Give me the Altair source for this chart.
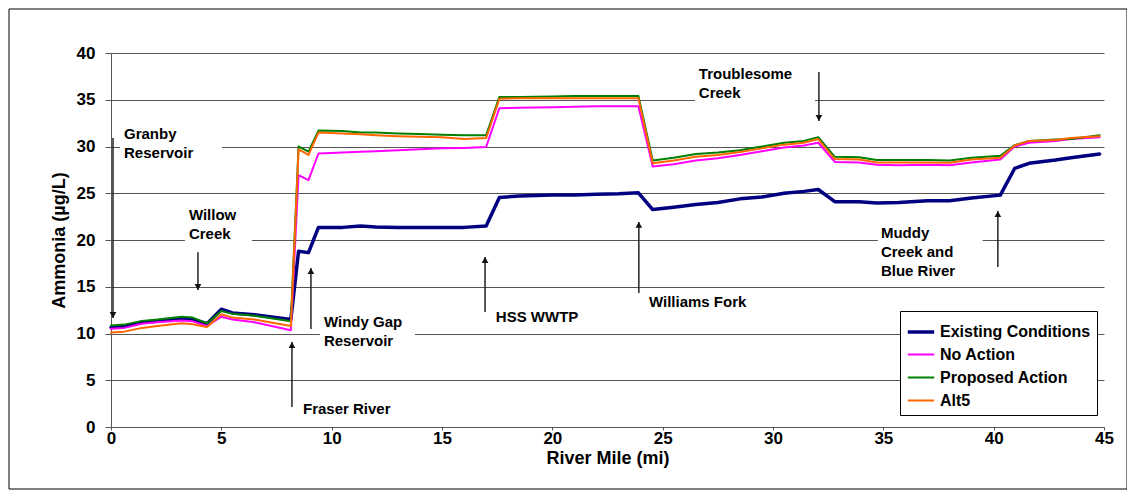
import altair as alt
import pandas as pd

# ---------------- data ----------------
miles = [0, 0.6, 1.4, 2.1, 3.2, 3.7, 4.35, 5.0, 5.5, 6.5,
         8.15, 8.5, 8.95, 9.4, 10.5, 11.3, 12.0, 13.0, 14.0, 15.0,
         16.0, 17.0, 17.6, 18.5, 20.0, 21.0, 22.0, 23.0, 23.9, 24.55,
         25.5, 26.5, 27.5, 28.5, 29.5, 30.5, 31.4, 32.05, 32.8, 33.9,
         34.7, 35.7, 37.0, 38.0, 39.0, 40.3, 40.95, 41.6, 42.8, 43.5,
         44.8]

existing = [10.65, 10.75, 11.2, 11.3, 11.6, 11.5, 11.05, 12.6, 12.2, 12.0,
            11.5, 18.8, 18.65, 21.35, 21.35, 21.5, 21.4, 21.35, 21.35, 21.35,
            21.35, 21.5, 24.55, 24.7, 24.8, 24.8, 24.9, 24.95, 25.05, 23.25,
            23.5, 23.8, 24.0, 24.4, 24.6, 25.0, 25.2, 25.4, 24.1, 24.1,
            23.95, 24.0, 24.2, 24.2, 24.5, 24.8, 27.65, 28.2, 28.55, 28.8,
            29.2]

no_action = [10.5, 10.6, 11.05, 11.2, 11.4, 11.3, 10.8, 11.8, 11.5, 11.2,
             10.35, 26.95, 26.4, 29.25, 29.35, 29.45, 29.5, 29.6, 29.7, 29.8,
             29.85, 29.95, 34.1, 34.15, 34.2, 34.25, 34.3, 34.3, 34.3, 27.85,
             28.1, 28.5, 28.75, 29.1, 29.5, 29.9, 30.1, 30.4, 28.35, 28.3,
             28.05, 28.0, 28.05, 28.0, 28.3, 28.6, 30.0, 30.4, 30.6, 30.8,
             31.0]

proposed = [10.85, 10.95, 11.35, 11.5, 11.8, 11.7, 11.1, 12.4, 12.1, 11.9,
            11.3, 30.0, 29.45, 31.7, 31.65, 31.5, 31.5, 31.4, 31.35, 31.25,
            31.2, 31.2, 35.3, 35.3, 35.35, 35.4, 35.4, 35.4, 35.4, 28.5,
            28.8, 29.2, 29.35, 29.6, 30.0, 30.4, 30.6, 31.0, 28.9, 28.85,
            28.55, 28.55, 28.55, 28.5, 28.8, 29.0, 30.15, 30.6, 30.75, 30.8,
            31.2]

alt5 = [10.1, 10.2, 10.6, 10.8, 11.1, 11.0, 10.7, 12.05, 11.7, 11.5,
        10.8, 29.7, 29.1, 31.5, 31.4, 31.3, 31.2, 31.1, 31.05, 31.0,
        30.8, 30.9, 35.1, 35.15, 35.15, 35.15, 35.15, 35.15, 35.15, 28.2,
        28.5, 28.9, 29.1, 29.4, 29.8, 30.2, 30.4, 30.8, 28.65, 28.6,
        28.3, 28.3, 28.3, 28.25, 28.6, 28.8, 30.1, 30.6, 30.7, 30.9,
        31.1]

series_names = ["Existing Conditions", "No Action", "Proposed Action", "Alt5"]
series_values = [existing, no_action, proposed, alt5]
series_colors = ["#000080", "#FF00FF", "#008000", "#FF6600"]
series_widths = [3.5, 2, 2, 2]

x_ticks = [0, 5, 10, 15, 20, 25, 30, 35, 40, 45]
y_ticks = [0, 5, 10, 15, 20, 25, 30, 35, 40]

# annotation text lines (anchored in river mile / ammonia units)
ann_text = ["Granby", "Reservoir", "Willow", "Creek", "Windy Gap", "Reservoir",
            "Fraser River", "HSS WWTP", "Williams Fork", "Troublesome", "Creek",
            "Muddy", "Creek and", "Blue River"]
ann_mile = [0.59, 0.59, 3.53, 3.53, 9.65, 9.65,
            8.70, 17.44, 24.38, 26.64, 26.64,
            34.89, 34.89, 34.89]
ann_value = [31.34, 29.30, 22.67, 20.64, 11.23, 9.20,
             1.93, 11.76, 13.37, 37.75, 35.72,
             20.75, 18.72, 16.68]

# label background boxes
box_m1 = [0.41, 3.35, 9.47, 26.46, 34.75]
box_m2 = [5.03, 6.39, 13.77, 31.9, 39.5]
box_v1 = [32.3, 23.7, 12.3, 38.8, 21.9]
box_v2 = [28.3, 19.6, 8.1, 34.65, 15.7]

# arrows: mile, start value, tip value, direction
arr_mile = [0.09, 3.94, 9.06, 8.2, 16.95, 23.92, 32.08, 40.19]
arr_from = [30.9, 18.7, 10.48, 2.14, 12.3, 14.33, 37.97, 17.11]
arr_tip = [11.66, 14.65, 17.0, 9.09, 18.18, 21.93, 32.73, 23.1]
arr_dir = ["down", "down", "up", "up", "up", "up", "down", "up"]

# ---------------- tables ----------------
rows = []
for name, vals in zip(series_names, series_values):
    for m, v in zip(miles, vals):
        rows.append({"mile": m, "value": v, "series": name})
df = pd.DataFrame(rows)

ann_df = pd.DataFrame({"text": ann_text, "mile": ann_mile, "value": ann_value})
box_df = pd.DataFrame({"m1": box_m1, "m2": box_m2, "v1": box_v1, "v2": box_v2})
arr_df = pd.DataFrame({"mile": arr_mile, "v0": arr_from, "tip": arr_tip, "dir": arr_dir})

FONT = "Liberation Sans"

xscale = alt.Scale(domain=[0, 45], nice=False, zero=False)
yscale = alt.Scale(domain=[0, 40], nice=False, zero=False)

x_enc = alt.X("mile:Q", scale=xscale,
              axis=alt.Axis(values=x_ticks, title="River Mile (mi)", grid=False,
                            tickSize=3, labelPadding=0, titlePadding=3,
                            labelFlush=False))
y_enc = alt.Y("value:Q", scale=yscale,
              axis=alt.Axis(values=y_ticks, title="Ammonia (µg/L)", grid=True,
                            tickSize=6, labelPadding=10, titlePadding=8))

legend_kw = dict(orient="none", legendX=789, legendY=258, title=None,
                 fillColor="white", strokeColor="#000000", padding=6,
                 labelFont=FONT, labelFontSize=16, labelFontWeight="bold",
                 labelColor="black", symbolType="stroke", symbolSize=700,
                 rowPadding=0, labelOffset=4)

boxes = alt.Chart(box_df).mark_rect(fill="white", stroke=None).encode(
    x=alt.X("m1:Q", scale=xscale), x2="m2:Q",
    y=alt.Y("v1:Q", scale=yscale), y2="v2:Q")

lines = alt.Chart(df).mark_line(strokeJoin="round", strokeCap="round").encode(
    x=x_enc, y=y_enc,
    color=alt.Color("series:N", sort=series_names,
                    scale=alt.Scale(domain=series_names, range=series_colors),
                    legend=alt.Legend(**legend_kw)),
    strokeWidth=alt.StrokeWidth("series:N", sort=series_names,
                                scale=alt.Scale(type="ordinal", domain=series_names,
                                                range=series_widths),
                                legend=alt.Legend(**legend_kw)),
)

texts = alt.Chart(ann_df).mark_text(align="left", baseline="middle", font=FONT,
                                    fontSize=15, fontWeight="bold",
                                    color="black").encode(
    x=alt.X("mile:Q", scale=xscale), y=alt.Y("value:Q", scale=yscale),
    text="text:N")

shafts = alt.Chart(arr_df).mark_rule(color="#222222", strokeWidth=1.5).encode(
    x=alt.X("mile:Q", scale=xscale),
    y=alt.Y("v0:Q", scale=yscale), y2="tip:Q")

heads_down = alt.Chart(arr_df).transform_filter(alt.datum.dir == "down").mark_point(
    shape="triangle-down", filled=True, color="#111111", size=45, opacity=1,
    yOffset=-3).encode(
    x=alt.X("mile:Q", scale=xscale), y=alt.Y("tip:Q", scale=yscale))

heads_up = alt.Chart(arr_df).transform_filter(alt.datum.dir == "up").mark_point(
    shape="triangle-up", filled=True, color="#111111", size=45, opacity=1,
    yOffset=3).encode(
    x=alt.X("mile:Q", scale=xscale), y=alt.Y("tip:Q", scale=yscale))

frame = alt.Chart(pd.DataFrame({"k": [0]})).mark_rect(
    fill="white", fillOpacity=0, stroke="#000000", strokeWidth=1).encode(
    x=alt.value(-102), x2=alt.value(1016), y=alt.value(-44), y2=alt.value(436))

chart = alt.layer(boxes, lines, shafts, heads_down, heads_up, texts, frame).properties(
    width=993, height=374,
    padding={"left": 103, "top": 45, "right": 23, "bottom": 63},
    autosize=alt.AutoSizeParams(type="none"),
    background="white",
).configure_view(stroke=None).configure_axis(
    labelFont=FONT, labelFontSize=17, labelFontWeight="bold", labelColor="black",
    titleFont=FONT, titleFontSize=18, titleFontWeight="bold", titleColor="black",
    domainColor="#555555", domainWidth=1, tickColor="#555555", tickWidth=1,
    gridColor="#555555", gridWidth=1, gridOpacity=1,
)

chart.save("out.html", embed_options={"renderer": "svg", "actions": False})
